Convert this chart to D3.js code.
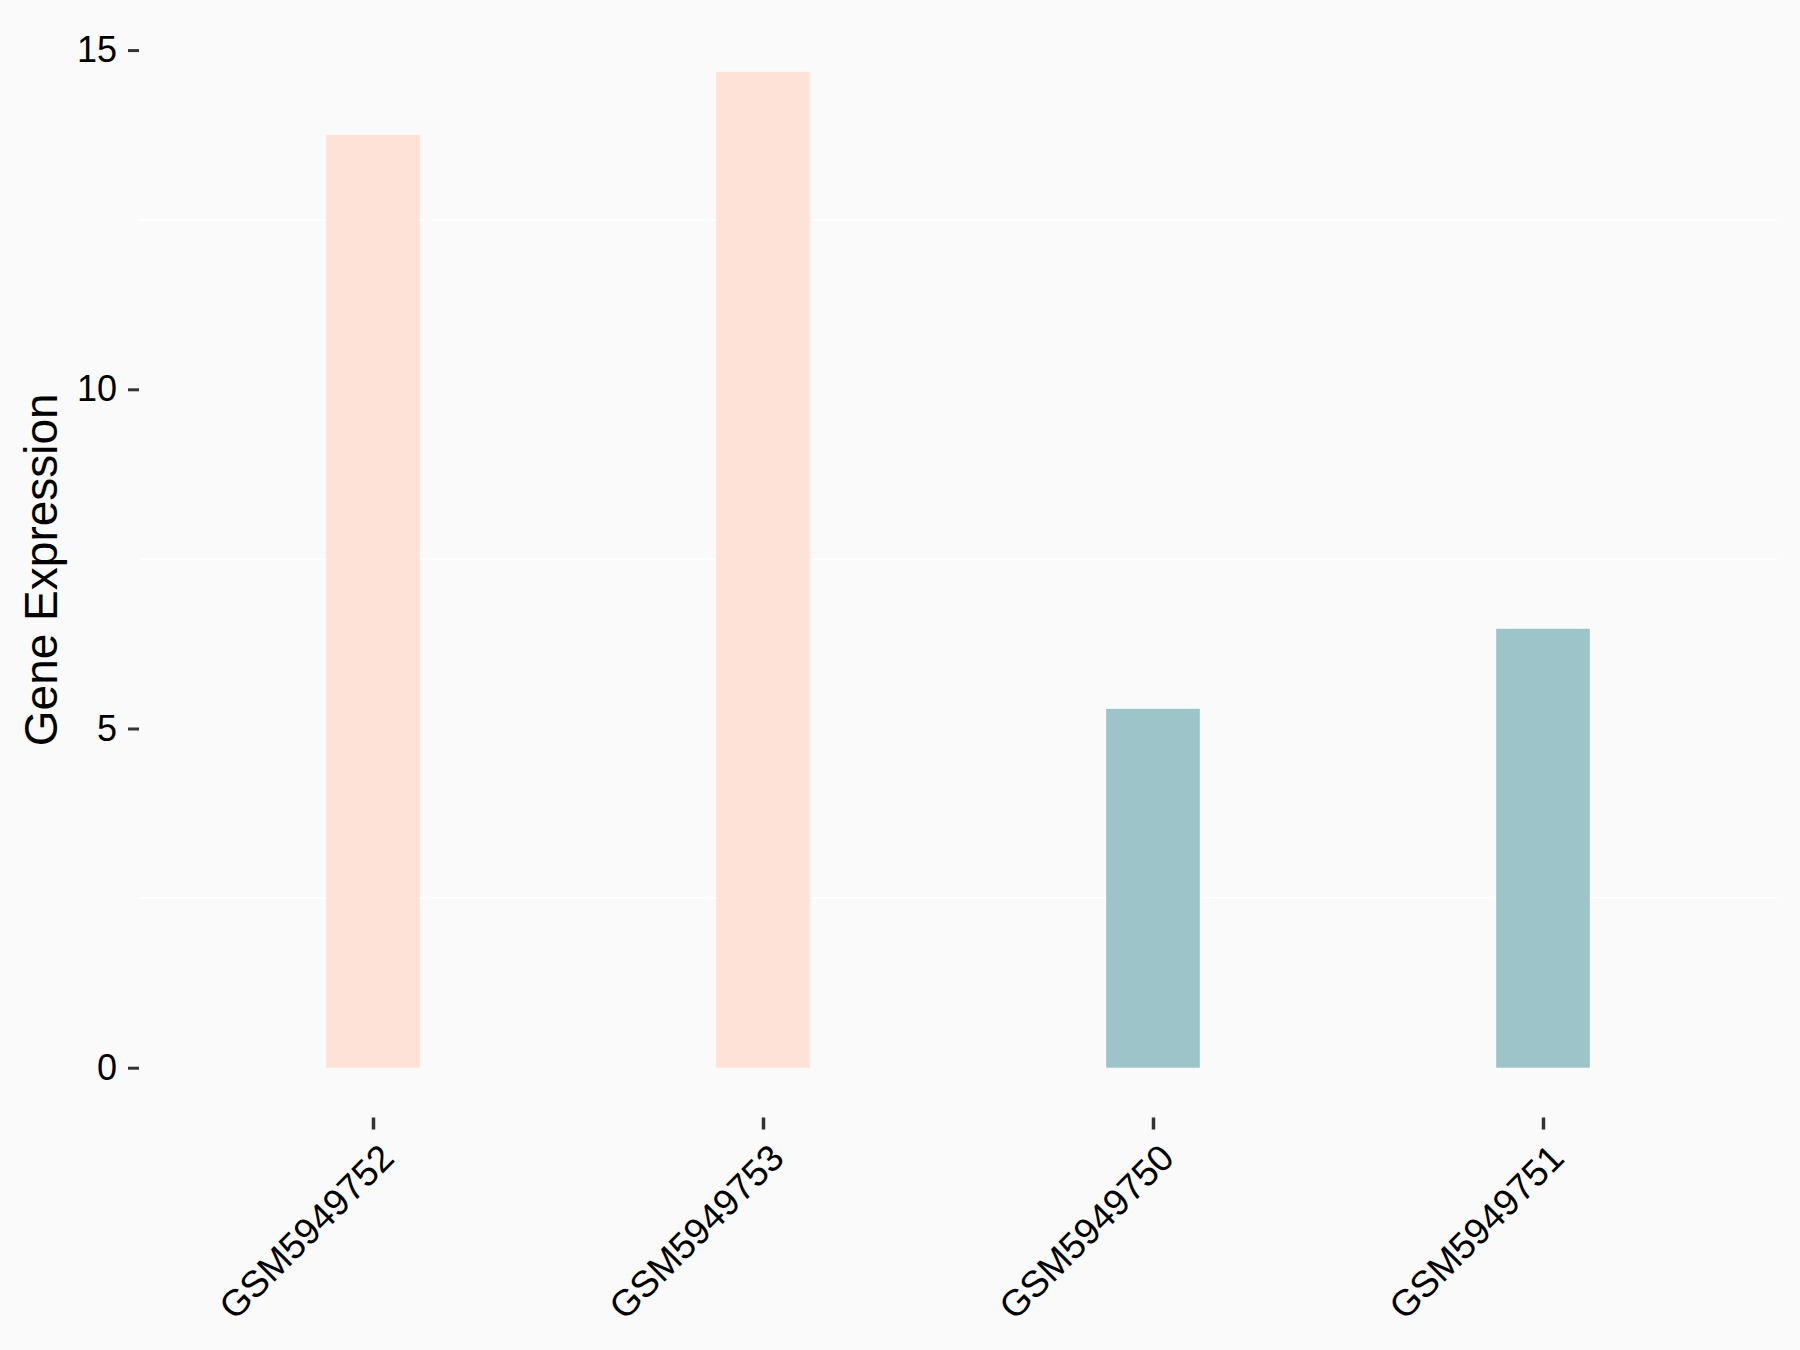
<!DOCTYPE html>
<html>
<head>
<meta charset="utf-8">
<script src="https://cdn.jsdelivr.net/npm/d3@7"></script>
<style>
  html, body { margin: 0; padding: 0; background: #FAFAFA; }
  svg { display: block; }
  text { font-family: "Liberation Sans", Arial, sans-serif; }
</style>
</head>
<body>
<svg id="chart" width="1800" height="1350"></svg>
<script>
const samples = ["GSM5949752", "GSM5949753", "GSM5949750", "GSM5949751"];
const expression = [13.75, 14.68, 5.29, 6.47];
const groups = ["high", "high", "low", "low"];
const groupColors = { high: "#FEE1D7", low: "#9DC4C8" };
const yTicks = [0, 5, 10, 15];
const yMinorGrid = [2.5, 7.5, 12.5];
const yTitle = "Gene Expression";

const W = 1800, H = 1350;
const panel = { left: 139, right: 1777, top: 22, bottom: 1117.5 };

const svg = d3.select("#chart");
svg.append("rect").attr("width", W).attr("height", H).attr("fill", "#FAFAFA");

const maxV = d3.max(expression);
const pad = maxV * 0.05;
const y = d3.scaleLinear().domain([-pad, maxV + pad]).range([panel.bottom, panel.top]);
const x = d3.scalePoint().domain(samples).range([panel.left, panel.right]).padding(0.6);
const barW = x.step() * 0.24;

// minor grid lines
svg.append("g").selectAll("line").data(yMinorGrid).join("line")
  .attr("x1", panel.left).attr("x2", panel.right)
  .attr("y1", d => y(d)).attr("y2", d => y(d))
  .attr("stroke", "#FFFFFF").attr("stroke-width", 2);

// bars
svg.append("g").selectAll("rect").data(samples).join("rect")
  .attr("x", d => x(d) - barW / 2)
  .attr("width", barW)
  .attr("y", (d, i) => y(expression[i]))
  .attr("height", (d, i) => y(0) - y(expression[i]))
  .attr("fill", (d, i) => groupColors[groups[i]]);

// y axis
const yAxis = d3.axisLeft(y).tickValues(yTicks).tickSize(11).tickPadding(11).tickFormat(d3.format("d"));
const gy = svg.append("g").attr("transform", `translate(${panel.left},0)`).call(yAxis);
gy.select(".domain").remove();
gy.selectAll(".tick line").attr("stroke", "#333333").attr("stroke-width", 3);
gy.selectAll(".tick text").attr("fill", "#000").attr("font-size", 36)
  .attr("font-family", "Liberation Sans, Arial, sans-serif");

// x axis
const xAxis = d3.axisBottom(x).tickSize(12).tickPadding(0);
const gx = svg.append("g").attr("transform", `translate(0,${panel.bottom})`).call(xAxis);
gx.select(".domain").remove();
gx.selectAll(".tick line").attr("stroke", "#333333").attr("stroke-width", 3.5);
gx.selectAll(".tick text")
  .attr("fill", "#000").attr("font-size", 37)
  .attr("font-family", "Liberation Sans, Arial, sans-serif")
  .attr("text-anchor", "end")
  .attr("dy", null)
  .attr("transform", "translate(4,24) rotate(-45)")
  .attr("y", 0).attr("x", 0)
  .attr("dominant-baseline", "hanging");

// y title
svg.append("text")
  .attr("transform", `translate(57,${(panel.top + panel.bottom) / 2}) rotate(-90)`)
  .attr("text-anchor", "middle")
  .attr("font-size", 46)
  .attr("fill", "#000")
  .text(yTitle);
</script>
</body>
</html>
